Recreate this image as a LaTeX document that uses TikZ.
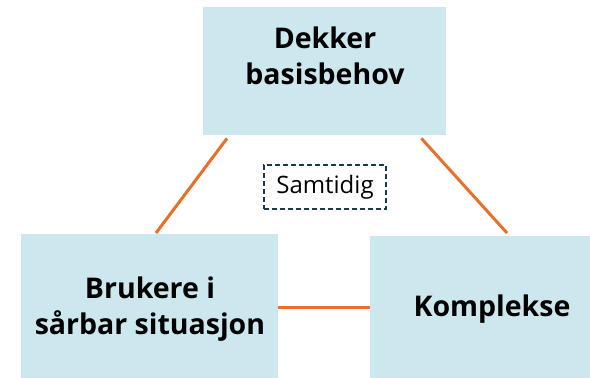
\documentclass[tikz,border=0pt]{standalone}
\usepackage{fontspec}
\setmainfont{Open Sans}
\definecolor{boxfill}{HTML}{CCE8EE}
\definecolor{linkc}{HTML}{E8702A}
\definecolor{dashc}{HTML}{1B3A4B}
\begin{document}
\begin{tikzpicture}[x=1pt,y=-1pt,
  box/.style={draw=none,fill=boxfill,inner sep=0pt,anchor=north west},
  lbl/.style={font=\fontsize{28.5}{36}\selectfont\bfseries,align=center,text=black,inner sep=0pt},
  link/.style={draw=linkc,line width=3pt}]
\useasboundingbox (0,0) rectangle (590,378);
\node[box,minimum width=243pt,minimum height=128pt] (top) at (203,7) {};
\node[box,minimum width=257pt,minimum height=150pt] (bl) at (21,234) {};
\node[box,minimum width=225pt,minimum height=150pt] (br) at (370,236) {};
\node[lbl] (toptxt) at (325,56) {Dekker\\basisbehov};
\node[lbl] (bltxt) at (150,309) {Brukere i\\sårbar situasjon};
\node[lbl] (brtxt) at (492,309) {Komplekse};
\node[draw=dashc,dashed,dash pattern=on 5pt off 3pt,line width=2pt,minimum width=122pt,minimum height=44pt,inner sep=0pt,font=\fontsize{24}{28}\selectfont] (sam) at (325,187) {Samtidig};
\draw[link] ([xshift=24pt,yshift=-3pt]top.south west) -- ([xshift=135pt,yshift=1pt]bl.north west);
\draw[link] ([xshift=-25pt,yshift=-3pt]top.south east) -- ([xshift=137pt,yshift=3pt]br.north west);
\draw[link] (bl.east |- 0,307) -- (br.west |- 0,307);
\end{tikzpicture}
\end{document}
